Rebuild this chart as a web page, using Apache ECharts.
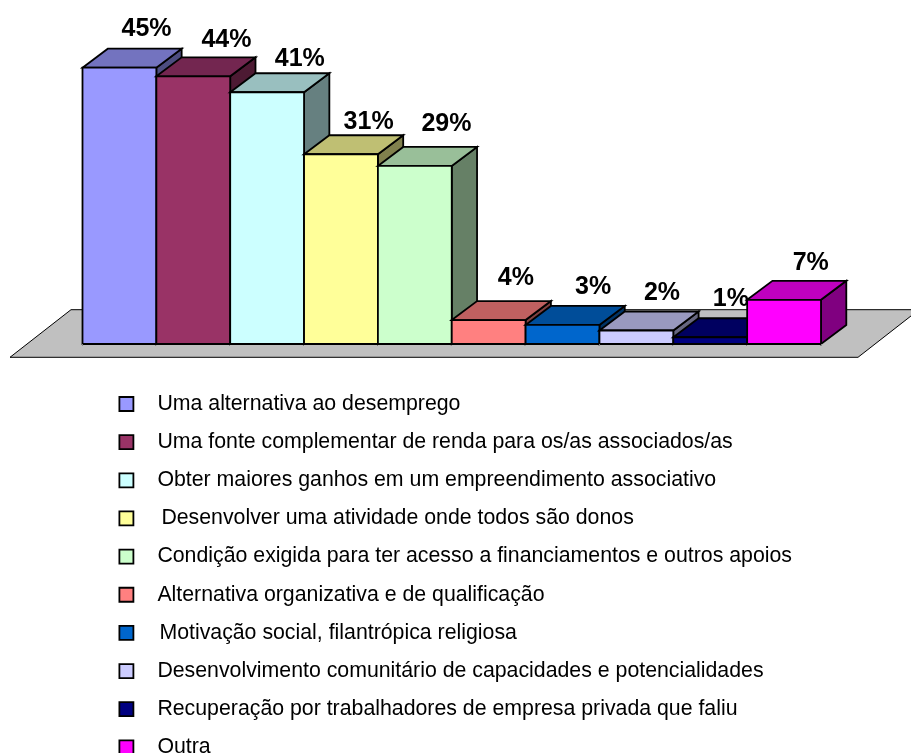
<!DOCTYPE html>
<html>
<head>
<meta charset="utf-8">
<style>html,body{margin:0;padding:0;background:#fff}#c{width:911px;height:753px}</style>
<script src="https://cdn.jsdelivr.net/npm/echarts@6/dist/echarts.min.js"></script>
</head>
<body>
<div id="c"></div>
<script>
const categories = [
  'Uma alternativa ao desemprego',
  'Uma fonte complementar de renda para os/as associados/as',
  'Obter maiores ganhos em um empreendimento associativo',
  'Desenvolver uma atividade onde todos são donos',
  'Condição exigida para ter acesso a financiamentos e outros apoios',
  'Alternativa organizativa e de qualificação',
  'Motivação social, filantrópica religiosa',
  'Desenvolvimento comunitário de capacidades e potencialidades',
  'Recuperação por trabalhadores de empresa privada que faliu',
  'Outra'
];
const values = [45.0, 43.6, 41.0, 30.9, 29.0, 3.9, 3.1, 2.2, 1.1, 7.2];
const colors = ['#9999FF', '#993366', '#CCFFFF', '#FFFF99', '#CCFFCC', '#FF8080', '#0066CC', '#CCCCFF', '#000080', '#FF00FF'];
const topColors = ['#7373BF', '#732650', '#99BFBF', '#BFBF73', '#99BF99', '#BF6060', '#004D99', '#9999BF', '#000060', '#BF00BF'];
const sideColors = ['#4D4D80', '#4D1A33', '#668080', '#80804D', '#668066', '#804040', '#003366', '#666680', '#000040', '#800080'];
// hand placement of the value labels, relative to the top of each box
const labelNudgeX = [14.5, 20.5, 20, 15, 19, 14.5, 18, 13, 8, 14];
const labelNudgeY = [-20, -17, -14, -13.5, -22.5, -23, -18.8, -18.7, -19.2, -17.8];
const legendIndent = [19, 19, 19, 23, 19, 19, 21, 19, 19, 19];

const DEPTH_X = 25.3, DEPTH_Y = -19;
const EDGE = { stroke: '#000', lineWidth: 1.8, lineJoin: 'miter' };

function renderBox(i) {
  return function (params, api) {
    const p = api.coord([api.value(0), api.value(1)]);
    const b = api.coord([api.value(0), 0]);
    const w = api.size([1, 0])[0];
    const l = p[0] - w / 2, r = p[0] + w / 2, t = p[1], base = b[1];
    const poly = (points, fill) => ({ type: 'polygon', shape: { points }, style: Object.assign({ fill }, EDGE) });
    return {
      type: 'group',
      children: [
        poly([[r, t], [r + DEPTH_X, t + DEPTH_Y], [r + DEPTH_X, base + DEPTH_Y], [r, base]], sideColors[i]),
        poly([[l, t], [l + DEPTH_X, t + DEPTH_Y], [r + DEPTH_X, t + DEPTH_Y], [r, t]], topColors[i]),
        poly([[l, t], [r, t], [r, base], [l, base]], colors[i]),
        {
          type: 'text',
          style: {
            text: Math.round(api.value(1)) + '%',
            x: p[0] + DEPTH_X / 2 + labelNudgeX[i],
            y: t + DEPTH_Y + labelNudgeY[i],
            align: 'center', verticalAlign: 'middle',
            font: 'bold 25px "Liberation Sans", Arial, sans-serif',
            fill: '#000'
          }
        }
      ]
    };
  };
}

function renderFloor(params) {
  const g = params.coordSys;
  const base = g.y + g.height;
  const front = base + 13.3, back = base - 34.3;
  return {
    type: 'polygon',
    shape: { points: [[g.x - 72.5, front], [g.x + g.width + 37, front], [g.x + g.width + 98, back], [g.x - 11.5, back]] },
    style: { fill: '#C0C0C0', stroke: '#000', lineWidth: 1 }
  };
}

const series = [{
  type: 'custom', name: 'piso', silent: true, renderItem: renderFloor, data: [[0, 0]],
  encode: { x: 0, y: 1 }
}];
categories.forEach((name, i) => {
  series.push({
    type: 'custom', name, renderItem: renderBox(i),
    itemStyle: { color: colors[i] },
    encode: { x: 0, y: 1 },
    data: [[i, values[i]]]
  });
});

const chart = echarts.init(document.getElementById('c'), null, { renderer: 'canvas' });
chart.setOption({
  animation: false,
  backgroundColor: '#fff',
  grid: { left: 82.5, right: 90, top: 37, bottom: 409 },
  xAxis: {
    type: 'category', data: categories, boundaryGap: true, z: 3,
    axisLabel: { show: false }, axisLine: { show: false },
    axisTick: { show: true, length: 2, lineStyle: { color: '#888' } }
  },
  yAxis: { type: 'value', min: 0, max: 50, show: false },
  legend: {
    left: 118.5, top: 393.5, height: 420, padding: 0, orient: 'vertical', icon: 'rect',
    itemWidth: 14, itemHeight: 14, itemGap: 17.15,
    selectedMode: false,
    data: categories.map((name, i) => ({
      name,
      itemStyle: { color: colors[i], borderColor: '#000', borderWidth: 1.8 },
      textStyle: { padding: [0, 0, 0, legendIndent[i]] }
    })),
    textStyle: { fontFamily: '"Liberation Sans", Arial, sans-serif', fontSize: 21.3, color: '#000' }
  },
  series
});
</script>
</body>
</html>
